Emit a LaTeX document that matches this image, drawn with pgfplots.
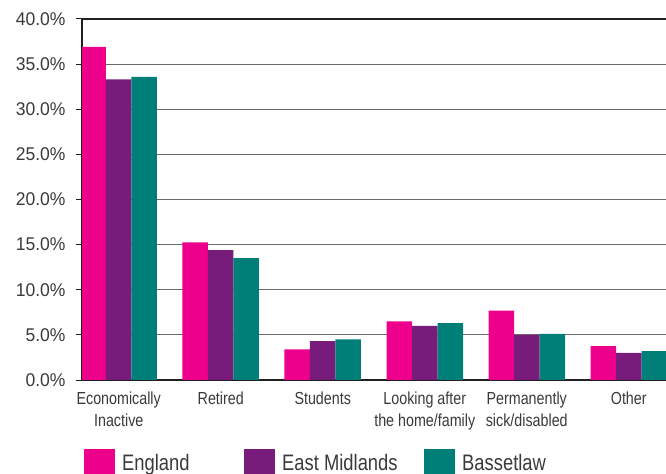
\documentclass[border=0pt]{standalone}
\usepackage{fontspec}
\setmainfont[FakeStretch=0.82]{Liberation Sans}
\newfontfamily\yfont[FakeStretch=0.95]{Liberation Sans}
\usepackage{pgfplots}
\pgfplotsset{compat=1.18}
\definecolor{eng}{HTML}{EC008C}
\definecolor{em}{HTML}{781C7C}
\definecolor{bas}{HTML}{007F78}
\definecolor{gridc}{HTML}{6A6A6A}
\definecolor{axc}{HTML}{231F20}
\definecolor{txt}{HTML}{3A3A3A}
\begin{document}
\begin{tikzpicture}
\useasboundingbox (0,0) rectangle (666bp,474bp);
\begin{axis}[
  at={(82bp,94bp)}, anchor=south west,
  scale only axis, width=584bp, height=361bp,
  ybar=0pt, bar width=25.5bp,
  xmin=-0.36, xmax=5.365, ymin=0, ymax=40,
  axis x line*=bottom, axis y line*=left,
  axis line style={axc, line width=2pt},
  every inner x axis line/.append style={-}, every inner y axis line/.append style={-},
  x axis line style={-}, y axis line style={-},
  ytick={0,5,...,40},
  ymajorgrids, grid style={gridc, line width=1.2pt},
  yticklabel={\pgfmathprintnumber[fixed,fixed zerofill,precision=1]{\tick}\%},
  /pgf/number format/assume math mode=true,
  tick align=outside, major tick length=6bp,
  y tick style={axc, line width=1pt},
  x tick style={draw=none},
  xtick=data,
  xticklabels={{Economically\\Inactive},Retired,Students,{Looking after\\the home/family},{Permanently\\sick/disabled},Other},
  xticklabel style={align=center, font=\fontsize{17.5}{22}\selectfont, text=txt, yshift=-2bp},
  yticklabel style={font=\yfont\fontsize{18.5}{20}\selectfont, text=txt, xshift=-7bp},
  clip=true,
  legend columns=3,
  legend style={at={(axis description cs:0,0)}, anchor=north west, xshift=2bp, yshift=-69bp,
    draw=none, fill=none, inner sep=0pt, column sep=0pt, font=\fontsize{22.5}{26}\selectfont, text=txt,
    nodes={inner sep=0pt},
    /tikz/every odd column/.append style={column sep=7bp}},
  legend image code/.code={\fill[#1] (0bp,-17bp) rectangle (31bp,14bp);},
]
\addplot[fill=eng, draw=none] coordinates {(0,36.9) (1,15.25) (2,3.4) (3,6.5) (4,7.7) (5,3.75)};
\addplot[fill=em, draw=none] coordinates {(0,33.3) (1,14.4) (2,4.3) (3,6.0) (4,5.0) (5,3.0)};
\addplot[fill=bas, draw=none] coordinates {(0,33.6) (1,13.5) (2,4.5) (3,6.3) (4,5.1) (5,3.2)};
\legend{\makebox[122bp][l]{England},\makebox[142bp][l]{East Midlands},Bassetlaw}
\draw[axc, line width=2pt] (rel axis cs:0,1) -- (rel axis cs:1,1);
\end{axis}
\end{tikzpicture}
\end{document}
